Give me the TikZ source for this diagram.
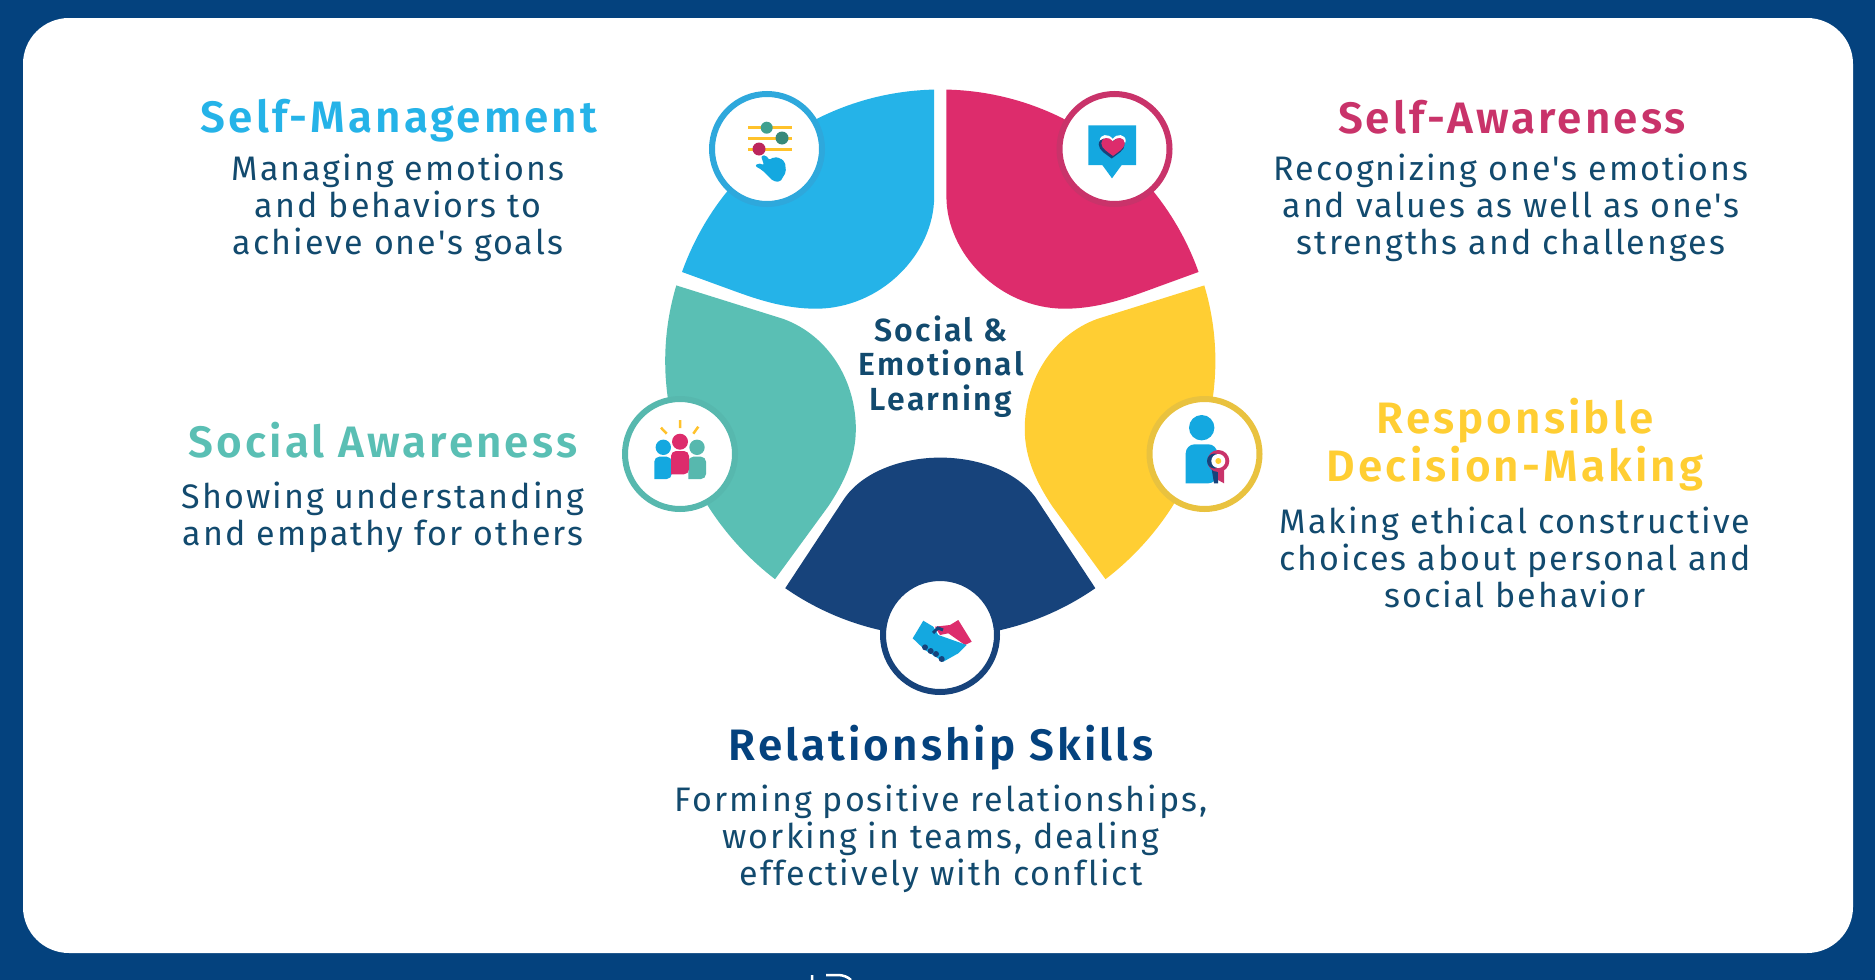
\documentclass[tikz,border=0pt]{standalone}
\usepackage{fontspec}
\setmainfont{Fira Sans}[Ligatures={TeXOff,NoCommon}, LetterSpace=6]
\newfontfamily\headfont{Fira Sans SemiBold}[Ligatures={TeXOff,NoCommon}, LetterSpace=7]
\definecolor{navy}{HTML}{04427E}
\definecolor{deepnavy}{HTML}{17437B}
\definecolor{inktext}{HTML}{124A6E}
\definecolor{skyblue}{HTML}{25B3E8}
\definecolor{rosepink}{HTML}{DD2C6C}
\definecolor{seateal}{HTML}{5ABFB4}
\definecolor{sunyellow}{HTML}{FFCE33}
\definecolor{barblue}{HTML}{2EA8DC}
\definecolor{barpink}{HTML}{C9336A}
\definecolor{barteal}{HTML}{57B8AE}
\definecolor{baryellow}{HTML}{E9C23F}
\definecolor{iconblue}{HTML}{14A8E0}
\definecolor{icongreen}{HTML}{3FA08F}
\tikzset{
  iconring/.style={circle, fill=white, line width=6pt, minimum size=110pt, inner sep=0pt},
  headtext/.style={align=center, font=\fontsize{44}{48}\selectfont\headfont},
  bodytext/.style={align=center, text=inktext, font=\fontsize{34}{37}\selectfont},
  hubtext/.style={align=center, text=inktext, font=\fontsize{32}{34.5}\selectfont\headfont}
}
\newcommand{\heartshape}{(0,-5) .. controls (4,-11) and (13,-10) .. (13,-3) .. controls (13,3) and (5,7) .. (0,11) .. controls (-5,7) and (-13,3) .. (-13,-3) .. controls (-13,-10) and (-4,-11) .. (0,-5) -- cycle}
\begin{document}
\begin{tikzpicture}[x=1pt, y=-1pt]
  \useasboundingbox (0,0) rectangle (1875,980);
  \fill[navy] (0,0) rectangle (1875,980);
  \fill[white, rounded corners=46pt] (23,18) rectangle (1853,953);
  \draw[white, line width=2.5pt] (812,980) -- (812,975) (826,975) -- (838,975) .. controls (843,975) and (848,977) .. (851,980);
  % petals
  \begin{scope}[shift={(620,70)}, scale=0.408]
    \fill[skyblue] (770,48) -- (770,310) .. controls (770,450) and (640,585) .. (480,585)
      .. controls (400,585) and (330,560) .. (270,538) -- (152,495)
      .. controls (246,232) and (491,54) .. cycle;
    \fill[rosepink] (800,48) -- (800,310) .. controls (800,450) and (930,585) .. (1090,585)
      .. controls (1170,585) and (1240,560) .. (1300,538) -- (1418,495)
      .. controls (1324,232) and (1079,54) .. cycle;
    \fill[seateal] (138,528) -- (400,610) .. controls (510,650) and (578,760) .. (578,880)
      .. controls (578,950) and (550,1010) .. (510,1070) -- (380,1248)
      .. controls (159,1078) and (58,795) .. cycle;
    \fill[sunyellow] (1432,528) -- (1170,610) .. controls (1060,650) and (992,760) .. (992,880)
      .. controls (992,950) and (1020,1010) .. (1060,1070) -- (1190,1248)
      .. controls (1411,1078) and (1512,795) .. cycle;
    \fill[deepnavy] (1165,1270) -- (1020,1050) .. controls (975,985) and (880,950) .. (785,950)
      .. controls (690,950) and (595,985) .. (550,1050) -- (405,1270)
      .. controls (634,1429) and (936,1429) .. cycle;
  \end{scope}
  \node[iconring, draw=barblue] (ringmanage) at (767,149) {};
  \node[iconring, draw=barpink] (ringaware) at (1114.5,149) {};
  \node[iconring, draw=barteal] (ringsocial) at (680,454) {};
  \node[iconring, draw=baryellow] (ringdecide) at (1204.5,454) {};
  \node[iconring, draw=deepnavy, minimum size=114pt] (ringrelate) at (940,635) {};
  % sliders and hand
  \foreach \bary in {127.7, 138.3, 149} \draw[sunyellow!85!orange, line width=3pt] (748,\bary) -- (792,\bary);
  \fill[icongreen] (766.7,127.7) circle (6);
  \fill[icongreen!85!black] (782,138) circle (6.5);
  \fill[rosepink!85!black] (759,149) circle (6.5);
  \fill[iconblue, rounded corners=2pt] (761,156) -- (766,155) -- (769,160) -- (774,157) -- (780,158) -- (785,162) -- (786,172) -- (780,182) -- (773,181) -- (762,170) -- (755,166) -- (758,163) -- (764,165) -- cycle;
  % speech bubble and heart
  \fill[iconblue] (1088.3,125.3) -- (1136,125.3) -- (1136,165) -- (1121.7,165) -- (1112,178.3) -- (1102.3,165) -- (1088.3,165) -- cycle;
  \fill[white, shift={(1112.7,144)}] \heartshape;
  \fill[deepnavy, shift={(1111.7,147.5)}] \heartshape;
  \fill[rosepink, shift={(1113,146)}, scale=.9] \heartshape;
  % three people
  \draw[sunyellow!85!orange, line width=2.5pt] (680,420) -- (680,428) (661,427.7) -- (666.7,433.7) (698.3,426.7) -- (693.3,433.7);
  \fill[iconblue] (663.3,447.3) circle (7.7);
  \fill[barteal] (697,447.3) circle (7.7);
  \fill[iconblue, rounded corners=5pt] (654.3,479) -- (654.3,456.7) -- (671.7,456.7) -- (671.7,479) [sharp corners] -- cycle;
  \fill[barteal, rounded corners=5pt] (688.3,479) -- (688.3,456.7) -- (706,456.7) -- (706,479) [sharp corners] -- cycle;
  \fill[rosepink] (680,441.7) circle (8);
  \fill[rosepink, rounded corners=5pt] (671,474.3) -- (671,451) -- (689,451) -- (689,474.3) [sharp corners] -- cycle;
  % person with rosette
  \fill[iconblue] (1201.7,427.7) circle (12.7);
  \fill[iconblue, rounded corners=9pt] (1185.7,483.3) -- (1185.7,444.3) -- (1217.3,444.3) -- (1217.3,483.3) [sharp corners] -- cycle;
  \fill[deepnavy] (1211,465) -- (1218,465) -- (1218,483.3) -- (1214,483.3) -- cycle;
  \fill[barpink] (1218,465) -- (1224,465) -- (1224,483.3) -- (1218,480) -- cycle;
  \fill[barpink] (1218.3,461) circle (11);
  \fill[deepnavy] (1214.5,461) circle (7.5);
  \fill[white] (1218.3,461) circle (7);
  \fill[sunyellow] (1218.3,461) circle (3);
  % handshake
  \fill[rosepink] (935,626.7) -- (950,625) -- (958.3,620) -- (971.7,641.7) -- (965,645) -- (948.3,633.3) -- (940,635) -- cycle;
  \fill[iconblue] (923.3,620.7) -- (933.3,626.7) -- (938.3,635) -- (966.7,645) -- (958.3,653.3) -- (943.3,661.7) -- (925,650) -- (912.7,638.3) -- cycle;
  \foreach \dotx/\doty in {925/647.3, 930.7/651, 936/654, 941.7/659} \fill[deepnavy] (\dotx,\doty) circle (3);
  \draw[deepnavy, line width=3pt] (933,633) -- (938,628) -- (943,630);
  % labels
  \node[hubtext] (hub) at (941,366.5) {Social \&\\Emotional\\Learning};
  \node[headtext, text=skyblue] (managehead) at (399,121) {Self-Management};
  \node[bodytext] (managebody) at (398,208) {Managing emotions\\and behaviors to\\achieve one's goals};
  \node[headtext, text=barpink] (awarehead) at (1512,117.5) {Self-Awareness};
  \node[bodytext] (awarebody) at (1511,208) {Recognizing one's emotions\\and values as well as one's\\strengths and challenges};
  \node[headtext, text=seateal] (socialhead) at (383,440.5) {Social Awareness};
  \node[bodytext] (socialbody) at (383,517) {Showing understanding\\and empathy for others};
  \node[headtext, text=sunyellow] (decidehead) at (1515,445) {Responsible\\Decision-Making};
  \node[bodytext] (decidebody) at (1515,557.5) {Making ethical constructive\\choices about personal and\\social behavior};
  \node[headtext, text=navy] (relatehead) at (941,748) {Relationship Skills};
  \node[bodytext] (relatebody) at (941,838.5) {Forming positive relationships,\\working in teams, dealing\\effectively with conflict};
\end{tikzpicture}
\end{document}
